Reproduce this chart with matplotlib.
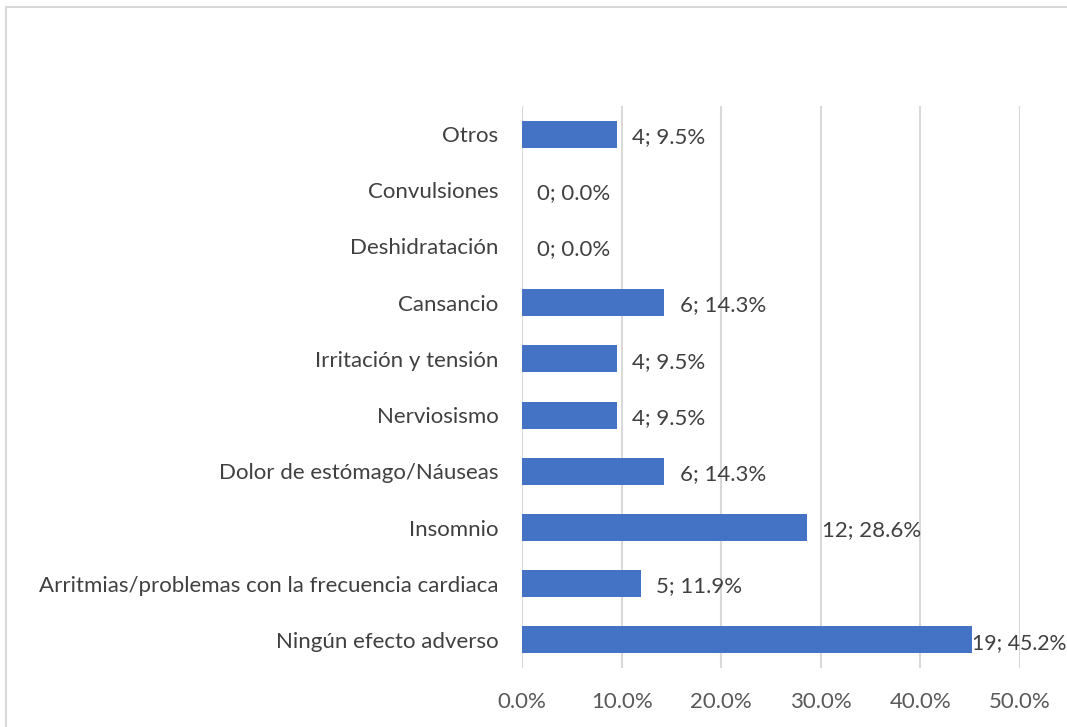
import matplotlib
matplotlib.use('Agg')
import matplotlib.pyplot as plt
from matplotlib.patches import Rectangle
from matplotlib.ticker import PercentFormatter

# Datos
categorias = ['Ningún efecto adverso',
              'Arritmias/problemas con la frecuencia cardiaca',
              'Insomnio',
              'Dolor de estómago/Náuseas',
              'Nerviosismo',
              'Irritación y tensión',
              'Cansancio',
              'Deshidratación',
              'Convulsiones',
              'Otros']
casos = [19, 5, 12, 6, 4, 4, 6, 0, 0, 4]
porcentajes = [45.2, 11.9, 28.6, 14.3, 9.5, 9.5, 14.3, 0.0, 0.0, 9.5]

plt.rcParams['font.family'] = ['Lato', 'DejaVu Sans']
FS = 16

fig = plt.figure(figsize=(10.67, 7.27), dpi=100)
ax = fig.add_axes([522/1067, 1-668/727, (1020-522)/1067, (668-106)/727])

# marco gris del gráfico
fig.patches.append(Rectangle((6/1067, -0.05), 1.1, 1-7/727+0.05,
                             transform=fig.transFigure, fill=False,
                             edgecolor='#D9D9D9', linewidth=1.5))

y = list(range(len(categorias)))
bars = ax.barh(y, porcentajes, height=0.48, color='#4472C4', zorder=3)

for i, (c, p) in enumerate(zip(casos, porcentajes)):
    # la etiqueta de la barra mayor va pegada a la barra (como en Excel)
    if p == max(porcentajes):
        pad, fs = 0, 15.3
    else:
        pad, fs = 11, FS
    ax.annotate(f'{c}; {p:.1f}%', (p, i), xytext=(pad, -2),
                textcoords='offset points', va='center', ha='left',
                fontsize=fs, color='#404040')

ax.set_xlim(0, 50)
ax.set_ylim(-0.5, len(categorias) - 0.5)
ax.set_xticks([0, 10, 20, 30, 40, 50])
ax.xaxis.set_major_formatter(PercentFormatter(decimals=1))
ax.set_yticks(y)
ax.set_yticklabels(categorias)
ax.grid(axis='x', color='#D9D9D9', linewidth=1.5, zorder=0)
for s in ax.spines.values():
    s.set_visible(False)
ax.tick_params(axis='both', length=0, labelsize=FS, colors='#404040')
ax.tick_params(axis='x', pad=17, colors='#595959')
ax.tick_params(axis='y', pad=17)

plt.savefig('out.png', dpi=100)
